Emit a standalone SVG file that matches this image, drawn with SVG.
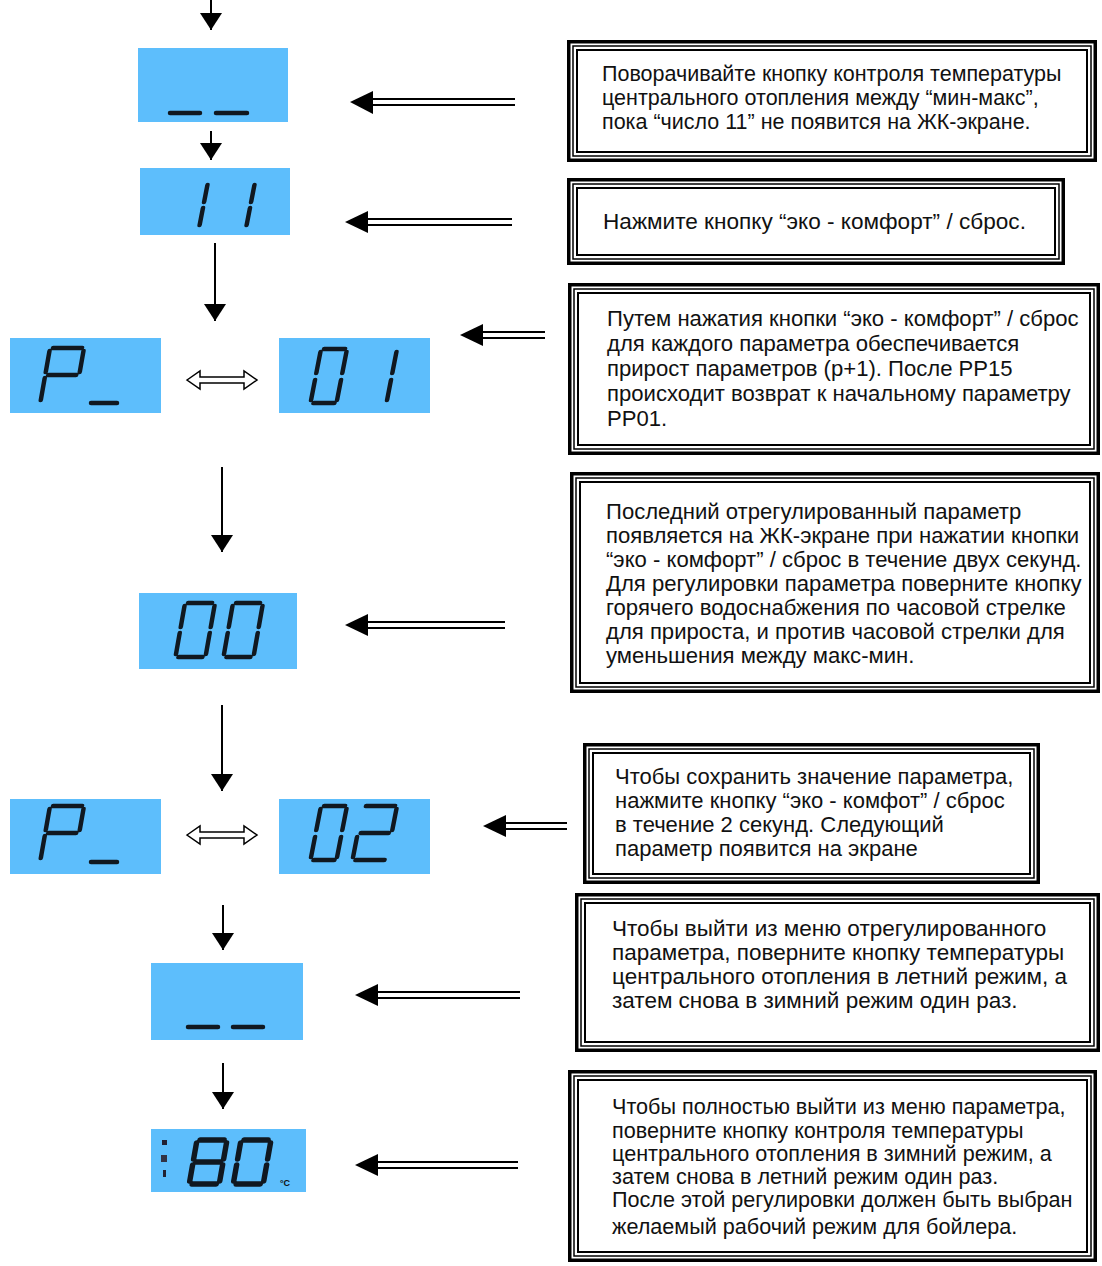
<svg xmlns="http://www.w3.org/2000/svg" width="1102" height="1266" viewBox="0 0 1102 1266">
<style>
.lcd{fill:#5dbefc}
.seg{fill:none;stroke:#101820;stroke-width:4.5;stroke-linecap:round;stroke-linejoin:round}
.segb{fill:none;stroke:#101820;stroke-width:5.5;stroke-linecap:round;stroke-linejoin:round}
.t{font-family:"Liberation Sans",Arial,sans-serif;font-size:22px;fill:#111}
.o1{fill:none;stroke:#000;stroke-width:3.5}
.o2{fill:none;stroke:#000;stroke-width:1.5}
.o3{fill:none;stroke:#000;stroke-width:2}
.bg{fill:#fff}
.v{stroke:#000;stroke-width:2;fill:none}
.dl{stroke:#000;stroke-width:2}
.hd{fill:#000}
.dbl{fill:#fff;stroke:#000;stroke-width:1.5;stroke-linejoin:miter}
</style>
<defs>
<marker id="ah" viewBox="0 0 17 22" refX="17" refY="11" markerWidth="17" markerHeight="22" markerUnits="userSpaceOnUse" orient="auto">
<path d="M0,0 L17,11 L0,22 z" fill="#000"/>
</marker>
</defs>
<rect width="1102" height="1266" fill="#fff"/>

<!-- LCD displays -->
<g id="lcd1">
<rect class="lcd" x="138" y="48" width="150" height="74"/>
<path class="seg" d="M170,113 H200 M216,113 H247"/>
</g>
<g id="lcd2">
<rect class="lcd" x="140" y="168" width="150" height="67"/>
<g transform="translate(182,182) skewX(-11)"><path class="seg" d="M26,3 V20 M26,26 V43"/></g>
<g transform="translate(229,182) skewX(-11)"><path class="seg" d="M26,3 V20 M26,26 V43"/></g>
</g>
<g id="lcd3">
<rect class="lcd" x="10" y="338" width="151" height="75"/>
<g transform="translate(50,348) skewX(-10)"><path class="seg" d="M3,0 H32 M34,3 V24 M3,27 H31 M0,3 V24 M0,30 V52"/></g>
<path class="seg" d="M91,403 H117"/>
</g>
<g id="lcd4">
<rect class="lcd" x="279" y="338" width="151" height="75"/>
<g transform="translate(321,349) skewX(-11)"><path class="seg" d="M3,0 H24 M26,3 V24 M26,31 V51 M3,54 H24 M0,31 V51 M0,3 V24"/></g>
<g transform="translate(371,349) skewX(-11)"><path class="seg" d="M26,3 V24 M26,31 V51"/></g>
</g>
<g id="lcd5">
<rect class="lcd" x="139" y="593" width="158" height="76"/>
<g transform="translate(185,603) skewX(-10)"><path class="seg" d="M3,0 H27 M30,3 V24 M30,30 V51 M3,54 H27 M0,30 V51 M0,3 V24"/></g>
<g transform="translate(233,603) skewX(-10)"><path class="seg" d="M3,0 H27 M30,3 V24 M30,30 V51 M3,54 H27 M0,30 V51 M0,3 V24"/></g>
</g>
<g id="lcd6">
<rect class="lcd" x="10" y="799" width="151" height="75"/>
<g transform="translate(50,806) skewX(-10)"><path class="seg" d="M3,0 H32 M34,3 V24 M3,27 H31 M0,3 V24 M0,30 V52"/></g>
<path class="seg" d="M91,862 H117"/>
</g>
<g id="lcd7">
<rect class="lcd" x="279" y="799" width="151" height="75"/>
<g transform="translate(321,806) skewX(-11)"><path class="seg" d="M3,0 H24 M26,3 V24 M26,31 V51 M3,54 H24 M0,31 V51 M0,3 V24"/></g>
<g transform="translate(363,806) skewX(-11)"><path class="seg" d="M3,0 H32 M34,3 V24 M3,27 H31 M0,31 V51 M3,54 H32"/></g>
</g>
<g id="lcd8">
<rect class="lcd" x="151" y="963" width="152" height="77"/>
<path class="seg" d="M188,1027 H218 M233,1027 H263"/>
</g>
<g id="lcd9">
<rect class="lcd" x="151" y="1129" width="155" height="63"/>
<g transform="translate(197,1140) skewX(-10)"><path class="segb" d="M3,0 H27 M30,3 V19 M30,25 V41 M3,44 H27 M0,25 V41 M0,3 V19 M3,22 H27"/></g>
<g transform="translate(241,1140) skewX(-10)"><path class="segb" d="M3,0 H27 M30,3 V19 M30,25 V41 M3,44 H27 M0,25 V41 M0,3 V19"/></g>
<rect x="162" y="1140" width="5" height="5" fill="#223"/>
<rect x="161" y="1155" width="6" height="7" fill="#334"/>
<rect x="163" y="1170" width="3" height="7" fill="#223"/>
<text x="280" y="1186" font-family="Liberation Sans,Arial,sans-serif" font-size="9" font-weight="bold" fill="#111">°C</text>
</g>

<!-- text boxes -->
<g id="box1">
<rect class="bg" x="567" y="40" width="530" height="122"/>
<rect class="o1" x="568.75" y="41.75" width="526.5" height="118.5"/>
<rect class="o2" x="573" y="46" width="518" height="110"/>
<rect class="o3" x="577" y="50" width="510" height="102"/>
<text class="t" style="font-size:21.5px" x="602" y="81">Поворачивайте кнопку контроля температуры</text>
<text class="t" style="font-size:21.5px" x="602" y="105">центрального отопления между “мин-макс”,</text>
<text class="t" style="font-size:21.5px" x="602" y="129">пока “число 11” не появится на ЖК-экране.</text>
</g>
<g id="box2">
<rect class="bg" x="567" y="178" width="498" height="87"/>
<rect class="o1" x="568.75" y="179.75" width="494.5" height="83.5"/>
<rect class="o2" x="573" y="184" width="486" height="75"/>
<rect class="o3" x="577" y="188" width="478" height="67"/>
<text class="t" style="font-size:22.6px" x="603" y="229">Нажмите кнопку “эко - комфорт” / сброс.</text>
</g>
<g id="box3">
<rect class="bg" x="568" y="283" width="532" height="172"/>
<rect class="o1" x="569.75" y="284.75" width="528.5" height="168.5"/>
<rect class="o2" x="574" y="289" width="520" height="160"/>
<rect class="o3" x="578" y="293" width="512" height="152"/>
<text class="t" style="font-size:22.1px" x="607" y="326">Путем нажатия кнопки “эко - комфорт” / сброс</text>
<text class="t" style="font-size:22.1px" x="607" y="351">для каждого параметра обеспечивается</text>
<text class="t" style="font-size:22.1px" x="607" y="376">прирост параметров (p+1). После PP15</text>
<text class="t" style="font-size:22.1px" x="607" y="401">происходит возврат к начальному параметру</text>
<text class="t" style="font-size:22.1px" x="607" y="426">PP01.</text>
</g>
<g id="box4">
<rect class="bg" x="570" y="472" width="530" height="221"/>
<rect class="o1" x="571.75" y="473.75" width="526.5" height="217.5"/>
<rect class="o2" x="576" y="478" width="518" height="209"/>
<rect class="o3" x="580" y="482" width="510" height="201"/>
<text class="t" style="font-size:22.1px" x="606" y="519">Последний отрегулированный параметр</text>
<text class="t" style="font-size:22.1px" x="606" y="543">появляется на ЖК-экране при нажатии кнопки</text>
<text class="t" style="font-size:22.1px" x="606" y="567">“эко - комфорт” / сброс в течение двух секунд.</text>
<text class="t" style="font-size:22.1px" x="606" y="591">Для регулировки параметра поверните кнопку</text>
<text class="t" style="font-size:22.1px" x="606" y="615">горячего водоснабжения по часовой стрелке</text>
<text class="t" style="font-size:22.1px" x="606" y="639">для прироста, и против часовой стрелки для</text>
<text class="t" style="font-size:22.1px" x="606" y="663">уменьшения между макс-мин.</text>
</g>
<g id="box5">
<rect class="bg" x="583" y="743" width="457" height="141"/>
<rect class="o1" x="584.75" y="744.75" width="453.5" height="137.5"/>
<rect class="o2" x="589" y="749" width="445" height="129"/>
<rect class="o3" x="593" y="753" width="437" height="121"/>
<text class="t" x="615" y="784">Чтобы сохранить значение параметра,</text>
<text class="t" x="615" y="808">нажмите кнопку “эко - комфот” / сброс</text>
<text class="t" x="615" y="832">в течение 2 секунд. Следующий</text>
<text class="t" x="615" y="856">параметр появится на экране</text>
</g>
<g id="box6">
<rect class="bg" x="575" y="893" width="525" height="159"/>
<rect class="o1" x="576.75" y="894.75" width="521.5" height="155.5"/>
<rect class="o2" x="581" y="899" width="513" height="147"/>
<rect class="o3" x="585" y="903" width="505" height="139"/>
<text class="t" style="font-size:22.5px" x="612" y="936">Чтобы выйти из меню отрегулированного</text>
<text class="t" style="font-size:22.5px" x="612" y="960">параметра, поверните кнопку температуры</text>
<text class="t" style="font-size:22.5px" x="612" y="984">центрального отопления в летний режим, а</text>
<text class="t" style="font-size:22.5px" x="612" y="1008">затем снова в зимний режим один раз.</text>
</g>
<g id="box7">
<rect class="bg" x="568" y="1070" width="529" height="192"/>
<rect class="o1" x="569.75" y="1071.75" width="525.5" height="188.5"/>
<rect class="o2" x="574" y="1076" width="517" height="180"/>
<rect class="o3" x="578" y="1080" width="509" height="172"/>
<text class="t" style="font-size:21.6px" x="612" y="1114">Чтобы полностью выйти из меню параметра,</text>
<text class="t" style="font-size:21.6px" x="612" y="1138">поверните кнопку контроля температуры</text>
<text class="t" style="font-size:21.6px" x="612" y="1161">центрального отопления в зимний режим, а</text>
<text class="t" style="font-size:21.6px" x="612" y="1184">затем снова в летний режим один раз.</text>
<text class="t" style="font-size:21.6px" x="612" y="1207">После этой регулировки должен быть выбран</text>
<text class="t" style="font-size:21.6px" x="612" y="1234">желаемый рабочий режим для бойлера.</text>
</g>

<!-- connectors -->
<g id="connectors">
<line class="v" x1="211" y1="0" x2="211" y2="30" marker-end="url(#ah)"/>
<line class="v" x1="211" y1="131" x2="211" y2="160" marker-end="url(#ah)"/>
<line class="v" x1="215" y1="243" x2="215" y2="321" marker-end="url(#ah)"/>
<line class="v" x1="222" y1="467" x2="222" y2="552" marker-end="url(#ah)"/>
<line class="v" x1="222" y1="705" x2="222" y2="791" marker-end="url(#ah)"/>
<line class="v" x1="223" y1="905" x2="223" y2="950" marker-end="url(#ah)"/>
<line class="v" x1="223" y1="1063" x2="223" y2="1109" marker-end="url(#ah)"/>

<g><path class="dl" d="M370,99 H515 M370,105 H515"/><path class="hd" d="M350,102 L373,91 L373,114 z"/></g>
<g><path class="dl" d="M365,219 H512 M365,225 H512"/><path class="hd" d="M345,222 L368,211 L368,233 z"/></g>
<g><path class="dl" d="M480,332 H545 M480,338 H545"/><path class="hd" d="M460,335 L483,324 L483,346 z"/></g>
<g><path class="dl" d="M365,622 H505 M365,628 H505"/><path class="hd" d="M345,625 L368,614 L368,636 z"/></g>
<g><path class="dl" d="M503,823 H567 M503,829 H567"/><path class="hd" d="M483,826 L506,815 L506,837 z"/></g>
<g><path class="dl" d="M375,992 H520 M375,998 H520"/><path class="hd" d="M355,995 L378,984 L378,1006 z"/></g>
<g><path class="dl" d="M375,1162 H518 M375,1168 H518"/><path class="hd" d="M355,1165 L378,1154 L378,1176 z"/></g>

<path class="dbl" d="M187,380 L200,371 L200,377 L244,377 L244,371 L257,380 L244,389 L244,383 L200,383 L200,389 z"/>
<path class="dbl" d="M187,835 L200,826 L200,832 L244,832 L244,826 L257,835 L244,844 L244,838 L200,838 L200,844 z"/>
</g>
</svg>
